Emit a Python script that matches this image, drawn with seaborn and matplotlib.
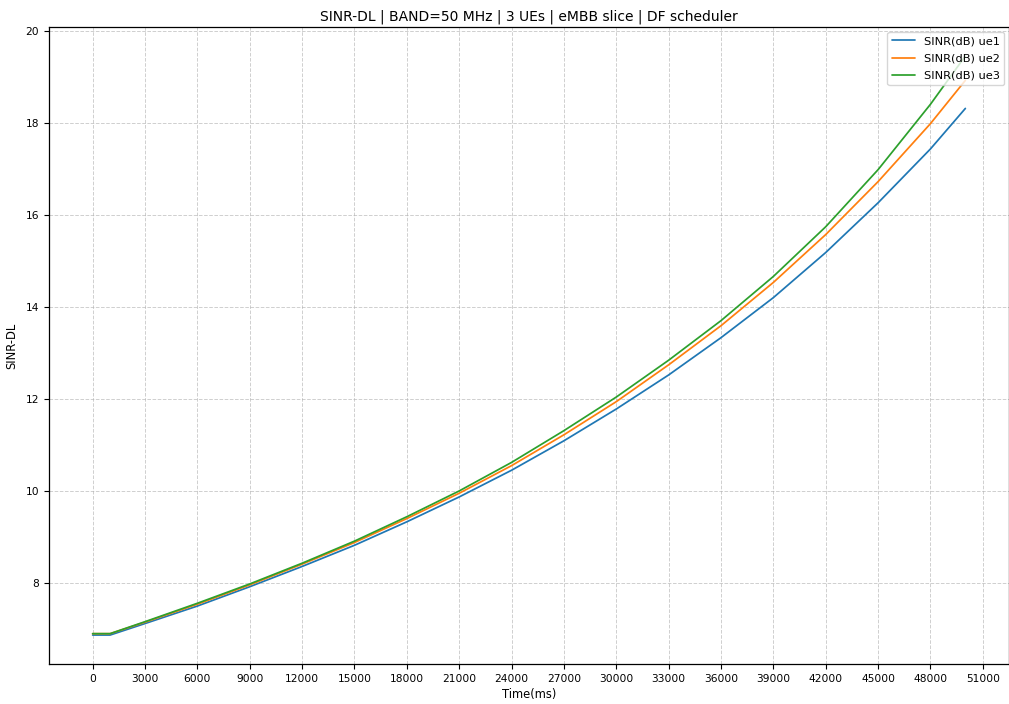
import matplotlib
matplotlib.use("Agg")
import matplotlib.pyplot as plt
import seaborn as sns
import pandas as pd

# Downlink SINR per UE over the simulation time
time_ms = [0, 1000, 3000, 6000, 9000, 12000, 15000, 18000, 21000, 24000,
           27000, 30000, 33000, 36000, 39000, 42000, 45000, 48000, 50000]
sinr_ue1 = [6.87, 6.87, 7.12, 7.50, 7.92, 8.36, 8.82, 9.33, 9.87, 10.45,
            11.09, 11.78, 12.52, 13.33, 14.20, 15.18, 16.26, 17.43, 18.31]
sinr_ue2 = [6.90, 6.90, 7.15, 7.54, 7.96, 8.41, 8.88, 9.40, 9.95, 10.55,
            11.22, 11.94, 12.74, 13.59, 14.53, 15.57, 16.72, 17.98, 18.92]
sinr_ue3 = [6.90, 6.90, 7.16, 7.56, 7.98, 8.43, 8.91, 9.44, 10.00, 10.62,
            11.31, 12.04, 12.84, 13.70, 14.66, 15.74, 16.98, 18.40, 19.45]

series = {
    "SINR(dB) ue1": sinr_ue1,
    "SINR(dB) ue2": sinr_ue2,
    "SINR(dB) ue3": sinr_ue3,
}
x_ticks = list(range(0, 51001, 3000))

frames = []
for name, vals in series.items():
    frames.append(pd.DataFrame({"Time(ms)": time_ms, "SINR-DL": vals, "ue": name}))
df = pd.concat(frames, ignore_index=True)

sns.set_style("ticks")
plt.rcParams["font.family"] = ["DejaVu Sans"]
plt.rcParams.update({
    "text.color": "black",
    "axes.labelcolor": "black",
    "xtick.color": "black",
    "ytick.color": "black",
})

fig = plt.figure(figsize=(10.09, 7.04), dpi=100)
ax = fig.add_axes([49 / 1009, 1 - 664 / 704, 1 - 49 / 1009, (664 - 27) / 704])

palette = ["#1f77b4", "#ff7f0e", "#2ca02c"]
sns.lineplot(data=df, x="Time(ms)", y="SINR-DL", hue="ue", palette=palette,
             linewidth=1.25, ax=ax, legend=True)

ax.set_xticks(x_ticks)
ax.set_title("SINR-DL | BAND=50 MHz | 3 UEs | eMBB slice | DF scheduler",
             fontsize=10, pad=5)
ax.set_xlabel("Time(ms)", fontsize=8.3, labelpad=3)
ax.set_ylabel("SINR-DL", fontsize=8.3, labelpad=5)
ax.tick_params(labelsize=7.7, length=3.5, width=0.8)
ax.grid(True, linestyle="--", color="#b0b0b0", alpha=0.6, linewidth=0.7)

handles, labels = ax.get_legend_handles_labels()
ax.legend(handles, labels, loc="upper right", fontsize=8.2, framealpha=0.8,
          labelspacing=0.65, borderaxespad=0.4)

for s in ax.spines.values():
    s.set_color("black")
    s.set_linewidth(0.9)

fig.savefig("out.png", dpi=100)
